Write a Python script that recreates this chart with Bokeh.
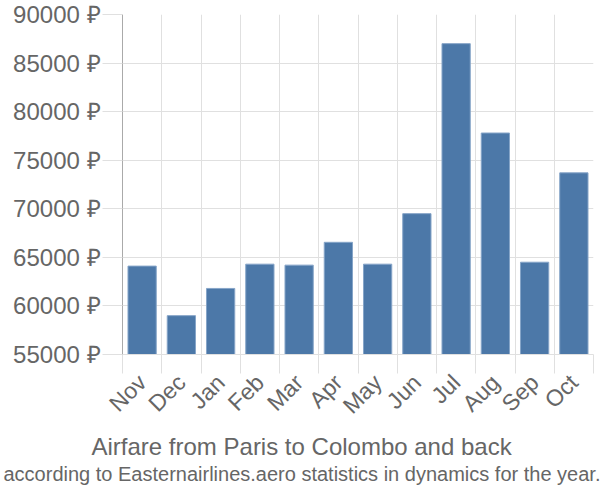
import math
from bokeh.plotting import figure
from bokeh.models import (FixedTicker, PrintfTickFormatter, Range1d, Title,
                          ColumnDataSource, CustomJSTickFormatter)
from bokeh.embed import file_html
from bokeh.resources import INLINE

months = ["Nov", "Dec", "Jan", "Feb", "Mar", "Apr", "May", "Jun", "Jul", "Aug", "Sep", "Oct"]
prices = [64100, 59000, 61800, 64300, 64200, 66550, 64300, 69500, 87000, 77800, 64500, 73700]
y_ticks = [55000, 60000, 65000, 70000, 75000, 80000, 85000, 90000]
title_text = "Airfare from Paris to Colombo and back"
subtitle_text = "according to Easternairlines.aero statistics in dynamics for the year."

FONT = "Liberation Sans"
TXT = "#666666"
GRID = "#e0e0e0"

n = len(months)
centers = [i + 0.5 for i in range(n)]
bounds = list(range(n + 1))
src = ColumnDataSource(dict(x=centers, top=prices, month=months))

p = figure(width=600, height=500, output_backend="svg", toolbar_location=None,
           x_range=Range1d(0, n), y_range=Range1d(y_ticks[0], y_ticks[-1]),
           min_border_left=122, min_border_right=7, min_border_top=14,
           min_border_bottom=146)
p.outline_line_color = None
p.background_fill_color = "white"

p.vbar(x="x", top="top", bottom=y_ticks[0], width=0.72, source=src,
       fill_color="#4c78a8", line_color="#86a5c8", line_width=1)

# x axis
xt = FixedTicker(ticks=centers, minor_ticks=bounds)
p.xaxis.ticker = xt
p.xgrid.ticker = xt
p.xaxis.formatter = CustomJSTickFormatter(args=dict(labels=months),
                                          code="return labels[Math.floor(tick)] || '';")
p.xaxis.major_label_orientation = math.pi / 4
p.xaxis.major_tick_out = 0
p.xaxis.major_tick_in = 0
p.xaxis.minor_tick_out = 19
p.xaxis.minor_tick_in = 0
p.xaxis.minor_tick_line_color = GRID
p.xaxis.minor_tick_line_width = 1
p.xaxis.axis_line_color = GRID
p.xaxis.major_label_standoff = 5
p.xaxis.major_label_text_font = FONT
p.xaxis.major_label_text_font_size = "23px"
p.xaxis.major_label_text_color = TXT
p.xgrid.grid_line_color = None
p.xgrid.minor_grid_line_color = GRID

# y axis
p.yaxis.ticker = FixedTicker(ticks=y_ticks)
p.yaxis.formatter = PrintfTickFormatter(format="%d ₽")
p.yaxis.major_tick_out = 20
p.yaxis.major_tick_in = 0
p.yaxis.major_tick_line_color = GRID
p.yaxis.minor_tick_line_color = None
p.yaxis.axis_line_color = "#aaaaaa"
p.yaxis.major_label_standoff = 2
p.yaxis.major_label_text_font = FONT
p.yaxis.major_label_text_font_size = "24px"
p.yaxis.major_label_text_color = TXT
p.ygrid.grid_line_color = GRID

p.add_layout(Title(text=title_text, align="left", offset=-31, standoff=0,
                   text_font=FONT, text_font_size="24px", text_font_style="normal",
                   text_color=TXT), "below")
p.add_layout(Title(text=subtitle_text, align="left", offset=-119, standoff=3,
                   text_font=FONT, text_font_size="20px", text_font_style="normal",
                   text_color=TXT), "below")

open("out.html", "w").write(file_html(p, INLINE))
